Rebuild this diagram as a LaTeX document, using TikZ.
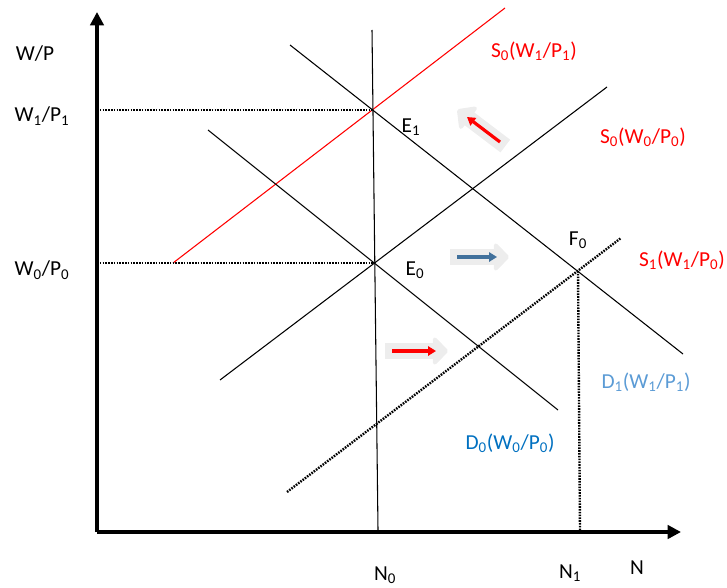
\documentclass[tikz,border=0pt]{standalone}
\usepackage{fontspec}
\setmainfont{Carlito}
\usepackage{tikz}
\usetikzlibrary{arrows.meta,positioning}
\definecolor{dzero}{HTML}{0070C0}
\definecolor{done}{HTML}{5B9BD5}
\definecolor{shiftblue}{HTML}{41719C}
\newcommand{\lo}[1]{\textsubscript{#1}}

\begin{document}
\begin{tikzpicture}[x=0.75pt, y=-0.75pt,
  lbl/.style={font=\fontsize{16}{19}\selectfont, inner sep=1pt},
  redlbl/.style={lbl, text=red},
  curve/.style={line width=0.8pt, black},
  guide/.style={dash pattern=on 1.2pt off 0.9pt, line width=1.8pt},
  axis/.style={line width=3pt, -{Triangle[length=10pt, width=10pt]}},
  halo/.style={line width=12pt, black!7, shorten <=-5pt, shorten >=-9pt,
    -{Triangle[length=12pt, width=24pt, round]}},
  movearrow/.style={line width=2.4pt, -{Triangle[length=6pt, width=7pt]}}
]
\useasboundingbox (0,0) rectangle (727,588);

% axes
\coordinate (o) at (97,532);
\coordinate (ytop) at (97,12);
\coordinate (xend) at (681,532);
\draw[axis] (o) -- (ytop);
\draw[axis] (o) -- (xend);

% key points
\coordinate (e1) at (372,110);
\coordinate (e0) at (373,263);
\coordinate (f0) at (578,271);

% curves
\coordinate (s1a) at (173,263);  \coordinate (s1b) at (505,8);
\coordinate (s0a) at (220,380);  \coordinate (s0b) at (607,87);
\coordinate (d0a) at (208,130);  \coordinate (d0b) at (558,410);
\coordinate (d1a) at (290,45);   \coordinate (d1b) at (683,354);
\coordinate (sfa) at (287,492);  \coordinate (sfb) at (621,238);
\coordinate (nta) at (372,30);   \coordinate (ntb) at (378,530);
\coordinate (nfb) at (580,530);

\draw[curve, red] (s1a) -- (s1b);
\draw[curve] (s0a) -- (s0b);
\draw[curve] (d0a) -- (d0b);
\draw[curve] (d1a) -- (d1b);
\draw[curve] (nta) -- (ntb);
\draw[guide] (sfa) -- (sfb);
\draw[guide] (f0) -- (nfb);
\draw[guide] (o |- e1) -- (e1);
\draw[guide] (o |- e0) -- (e0);

% shift arrows
\foreach \a/\b/\c in {{(500,142)}/{(467,117)}/red, {(457,257)}/{(497,257)}/shiftblue, {(392,351)}/{(436,351)}/red} {
  \draw[halo] \a -- \b;
  \draw[movearrow, \c] \a -- \b;
}

% labels
\node[lbl] (wp) at (35,54) {W/P};
\node[lbl] (w1) at (42,116) {W\lo{1}/P\lo{1}};
\node[lbl] (w0) at (42,270) {W\lo{0}/P\lo{0}};
\node[lbl] (le1) at (411,127) {E\lo{1}};
\node[lbl] (le0) at (415,270) {E\lo{0}};
\node[lbl] (lf0) at (578,240) {F\lo{0}};
\node[redlbl] (ls1) at (534,51) {S\lo{0}(W\lo{1}/P\lo{1})};
\node[redlbl] (ls0) at (643,137) {S\lo{0}(W\lo{0}/P\lo{0})};
\node[redlbl] (lsf) at (682,260) {S\lo{1}(W\lo{1}/P\lo{0})};
\node[lbl, text=done] (ld1) at (646,382) {D\lo{1}(W\lo{1}/P\lo{1})};
\node[lbl, text=dzero] (ld0) at (510,443) {D\lo{0}(W\lo{0}/P\lo{0})};
\node[lbl] (ln0) at (385,575) {N\lo{0}};
\node[lbl] (ln1) at (570,573) {N\lo{1}};
\node[lbl] (ln) at (637,568) {N};
\end{tikzpicture}
\end{document}
